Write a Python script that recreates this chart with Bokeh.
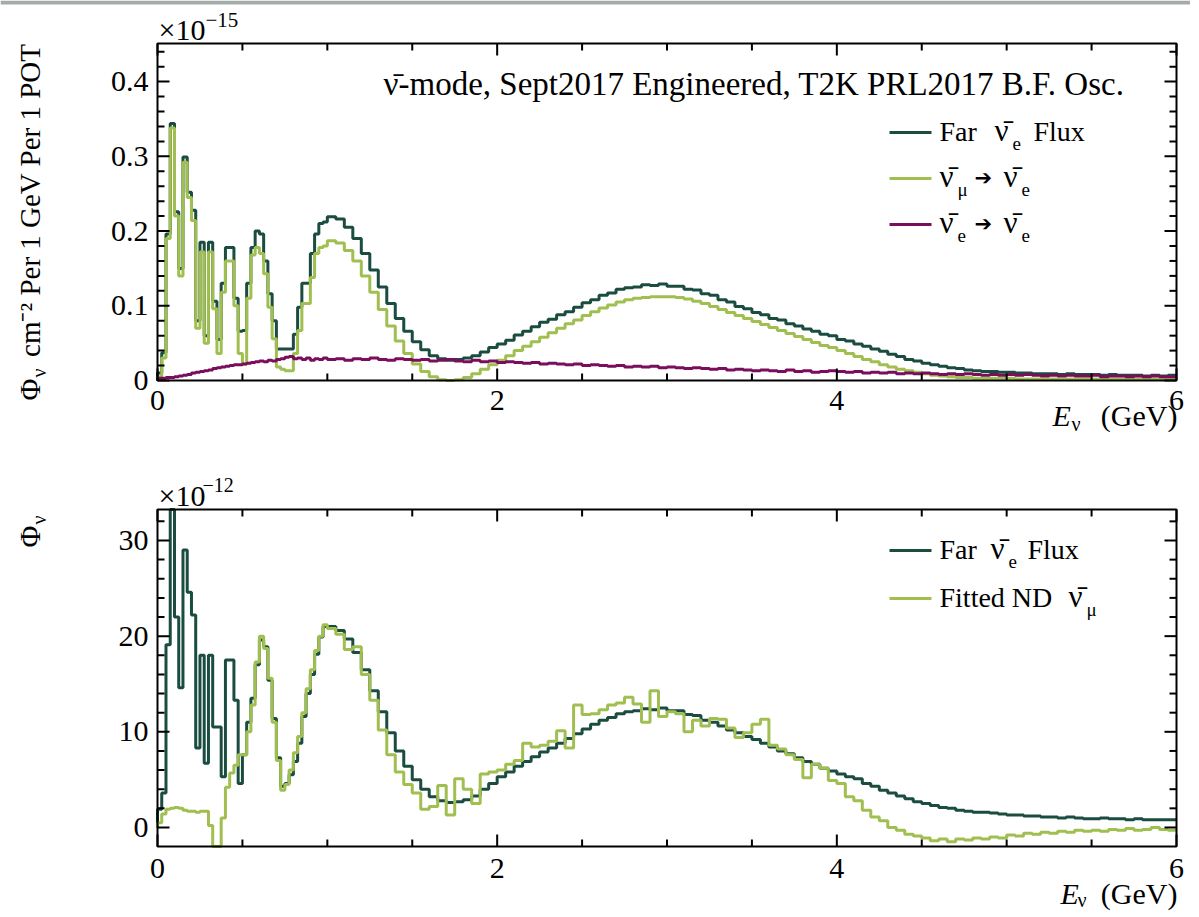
import math
import numpy as np
from bokeh.plotting import figure
from bokeh.models import Label, Range1d, BoxAnnotation
from bokeh.core.properties import value
from bokeh.embed import file_html
from bokeh.resources import INLINE

# ---------------- data ----------------
# bin edges: 0.025 GeV up to 1 GeV, 0.05 GeV from 1 to 6 GeV
edges = np.concatenate([np.linspace(0.0, 1.0, 41), np.linspace(1.05, 6.0, 100)])

# top panel, units of 1e-15
far_low = [.010, .037, .196, .344, .226, .150, .299, .252, .228, .080,
           .185, .060, .185, .106, .055, .130, .178, .178, .110, .066,
           .067, .130, .178, .200, .196, .160, .116, .080, .042, .042,
           .042, .042, .062, .098, .130, .130, .170, .196, .210, .212]
far_high = [.219, .216, .205, .190, .170, .148, .125, .103, .083, .066,
            .052, .041, .033, .029, .027, .028, .030, .033, .038, .044,
            .049, .054, .061, .066, .072, .078, .082, .088, .092, .098,
            .104, .108, .114, .117, .122, .124, .125, .128, .127, .129,
            .126, .126, .122, .121, .116, .114, .108, .105, .099, .096,
            .091, .088, .083, .081, .076, .073, .069, .066, .062, .060,
            .055, .053, .049, .046, .042, .039, .035, .032, .028, .026,
            .023, .021, .019, .017, .016, .014, .013, .012, .012, .011,
            .011, .010, .010, .009, .009, .009, .008, .009, .008, .008,
            .008, .007, .008, .007, .007, .007, .006, .007, .006, .007]

mue_low = [.005, .030, .190, .338, .220, .140, .292, .245, .214, .070,
           .172, .050, .172, .096, .036, .118, .160, .160, .100, .036,
           .022, .110, .168, .178, .170, .143, .098, .056, .018, .015,
           .013, .013, .036, .067, .103, .103, .138, .170, .178, .180]
mue_high = [.187, .184, .174, .160, .140, .118, .095, .073, .053, .036,
            .022, .012, .005, .001, .000, .001, .004, .009, .015, .021,
            .027, .033, .040, .046, .052, .058, .064, .070, .076, .081,
            .087, .092, .097, .101, .105, .108, .110, .111, .112, .112,
            .112, .111, .109, .106, .103, .099, .095, .091, .087, .083,
            .079, .075, .071, .067, .063, .059, .055, .051, .047, .044,
            .040, .036, .032, .028, .025, .021, .018, .015, .013, .011,
            .009, .007, .006, .005, .004, .004, .003, .003, .003, .003,
            .003, .002, .002, .002, .002, .002, .002, .002, .002, .002,
            .002, .002, .002, .002, .002, .002, .002, .002, .002, .002]

ee_low = [.003, .003, .004, .004, .005, .006, .007, .008, .010, .011,
          .012, .013, .014, .016, .017, .018, .019, .020, .021, .021,
          .022, .023, .024, .025, .026, .025, .027, .026, .028, .029,
          .031, .032, .029, .030, .028, .030, .027, .029, .028, .030]
ee_high = [.028, .029, .027, .029, .028, .030, .028, .027, .029, .028,
           .027, .028, .026, .027, .028, .026, .025, .027, .025, .026,
           .024, .025, .024, .023, .024, .022, .023, .022, .021, .022,
           .020, .021, .020, .019, .020, .018, .019, .018, .019, .017,
           .018, .017, .016, .017, .016, .015, .016, .014, .015, .014,
           .013, .014, .013, .012, .014, .012, .013, .011, .012, .013,
           .012, .011, .012, .010, .011, .010, .011, .009, .010, .009,
           .010, .009, .008, .009, .008, .009, .008, .007, .008, .007,
           .008, .007, .008, .007, .006, .007, .006, .007, .006, .006,
           .007, .005, .006, .006, .005, .006, .005, .006, .005, .005]

# bottom panel, units of 1e-12
farb_low = [1.9, 3.6, 19.1, 34.0, 22.0, 14.6, 29.0, 24.6, 22.2, 8.3,
            18.0, 6.7, 18.0, 10.5, 10.5, 5.3, 17.5, 17.5, 13.3, 4.6,
            7.6, 11.0, 13.5, 17.0, 19.6, 18.9, 15.4, 11.4, 7.3, 4.3,
            4.6, 5.5, 6.9, 8.8, 11.6, 14.0, 16.0, 18.1, 19.9, 21.0]
farb_high = [21.0, 20.6, 19.7, 18.3, 16.5, 14.3, 12.1, 9.9, 8.0, 6.4,
             5.0, 4.0, 3.2, 2.8, 2.6, 2.7, 2.9, 3.3, 4.0, 4.6,
             5.3, 5.8, 6.4, 6.9, 7.4, 7.9, 8.3, 8.8, 9.3, 9.8,
             10.3, 10.8, 11.2, 11.5, 11.9, 12.1, 12.2, 12.4, 12.3, 12.5,
             12.2, 12.2, 11.8, 11.7, 11.2, 11.0, 10.6, 10.2, 9.9, 9.5,
             9.2, 8.8, 8.4, 8.0, 7.7, 7.3, 6.9, 6.6, 6.2, 5.9,
             5.6, 5.3, 5.1, 4.6, 4.3, 3.9, 3.6, 3.3, 3.0, 2.7,
             2.5, 2.3, 2.1, 2.0, 1.8, 1.7, 1.6, 1.6, 1.5, 1.4,
             1.3, 1.3, 1.2, 1.2, 1.1, 1.1, 1.0, 1.1, 1.0, 0.9,
             0.9, 1.0, 0.9, 0.9, 0.8, 0.9, 0.8, 0.8, 0.8, 0.8]

nd_low = [0.5, 1.4, 1.9, 2.0, 2.1, 2.0, 1.8, 1.7, 1.7, 1.6,
          1.7, 1.7, 0.2, -2.5, -2.5, 1.0, 4.2, 5.7, 6.5, 7.6,
          7.6, 10.0, 12.8, 17.3, 20.0, 18.7, 15.6, 11.0, 7.0, 3.9,
          4.5, 6.0, 7.8, 9.5, 12.0, 14.5, 16.5, 18.5, 20.0, 21.2]
nd_high = [20.8, 20.2, 18.6, 18.9, 16.0, 13.3, 10.2, 7.6, 5.8, 4.5,
           3.6, 1.9, 2.2, 4.4, 1.3, 5.1, 4.0, 2.5, 5.6, 5.8,
           6.0, 6.6, 7.0, 8.8, 8.4, 8.6, 9.0, 10.1, 8.3, 12.8,
           11.8, 11.9, 12.3, 12.8, 13.0, 13.6, 12.9, 11.0, 14.3, 11.6,
           12.1, 11.9, 10.0, 11.2, 10.6, 11.4, 11.3, 10.4, 9.4, 9.9,
           10.8, 11.3, 8.6, 8.2, 7.6, 7.1, 5.2, 6.6, 6.2, 4.9,
           4.6, 3.2, 2.8, 1.8, 1.1, 0.7, 0.0, -0.3, -0.7, -0.9,
           -1.1, -1.4, -1.2, -1.5, -1.2, -1.3, -1.1, -1.2, -1.0, -1.1,
           -0.8, -0.9, -0.6, -0.7, -0.5, -0.6, -0.4, -0.5, -0.3, -0.4,
           -0.3, -0.4, -0.2, -0.3, -0.1, -0.3, -0.2, 0.0, -0.2, -0.3]

x_major = [0, 2, 4, 6]
x_labels = ["0", "2", "4", "6"]
x_minor = [0.5, 1.0, 1.5, 2.5, 3.0, 3.5, 4.5, 5.0, 5.5]
ytop_range = (0.0, 0.451)
ytop_major = [0.0, 0.1, 0.2, 0.3, 0.4]
ytop_labels = ["0", "0.1", "0.2", "0.3", "0.4"]
ytop_minor = [0.02, 0.04, 0.06, 0.08, 0.12, 0.14, 0.16, 0.18, 0.22, 0.24, 0.26, 0.28,
              0.32, 0.34, 0.36, 0.38, 0.42, 0.44]
ybot_range = (-1.99, 33.24)
ybot_major = [0, 10, 20, 30]
ybot_labels = ["0", "10", "20", "30"]
ybot_minor = [2, 4, 6, 8, 12, 14, 16, 18, 22, 24, 26, 28, 32]

# ---------------- layout / style ----------------
FONT = "Liberation Serif"
DARK = "#1a4c40"
LIGHT = "#a0bf50"
PURPLE = "#7a0e5c"
NUBAR = "\u03bd\u0304"
ARROW = "\u2794"
W, H = 1190, 912
FL, FR = 157, 1176            # frame left / right (px)
T_TOP, T_BOT = 43, 380        # top panel frame
B_TOP, B_BOT = 509, 846       # bottom panel frame

sx = (FR - FL) / 6.0
syt = (T_BOT - T_TOP) / (ytop_range[1] - ytop_range[0])
syb = (B_BOT - B_TOP) / (ybot_range[1] - ybot_range[0])

p = figure(width=W, height=H,
           x_range=Range1d(-FL / sx, 6.0 + (W - FR) / sx),
           y_range=Range1d(ytop_range[0] - (H - T_BOT) / syt, ytop_range[1] + T_TOP / syt),
           x_axis_type=None, y_axis_type=None, min_border=0,
           output_backend="svg", toolbar_location=None)
p.extra_y_ranges = {"bot": Range1d(ybot_range[0] - (H - B_BOT) / syb, ybot_range[1] + B_TOP / syb)}
p.outline_line_color = None
p.background_fill_color = "white"
p.border_fill_color = "white"


def step_xy(vals, lo, hi):
    v = np.clip(np.asarray(vals, dtype=float), lo, hi)
    xs = np.concatenate([[edges[0]], edges])
    ys = np.concatenate([[max(0.0, lo)], v, [v[-1]]])
    return xs, ys


def draw_axes(ylo, yhi, ymaj, ymin, ylabels, sy, rn, label_drop):
    kw = dict(line_color="black", line_width=2, line_cap="butt")
    if rn:
        kw["y_range_name"] = rn
    for vals, L in ((x_major, 12), (x_minor, 7)):
        v = np.asarray(vals, dtype=float)
        n = len(v)
        p.segment(x0=v, y0=np.full(n, ylo), x1=v, y1=np.full(n, ylo + L / sy), **kw)
        p.segment(x0=v, y0=np.full(n, yhi), x1=v, y1=np.full(n, yhi - L / sy), **kw)
    for vals, L in ((ymaj, 12), (ymin, 7)):
        v = np.asarray(vals, dtype=float)
        n = len(v)
        p.segment(x0=np.zeros(n), y0=v, x1=np.full(n, L / sx), y1=v, **kw)
        p.segment(x0=np.full(n, 6.0), y0=v, x1=np.full(n, 6.0 - L / sx), y1=v, **kw)
    p.quad(left=[0], right=[6], bottom=[ylo], top=[yhi], fill_color=None,
           line_color="black", line_width=2, **({"y_range_name": rn} if rn else {}))
    tkw = dict(text_font=value(FONT), text_font_size=value("30px"), text_color="black")
    if rn:
        tkw["y_range_name"] = rn
    p.text(x=x_major, y=[ylo - label_drop / sy] * len(x_major), text=x_labels,
           text_align="center", text_baseline="middle", **tkw)
    p.text(x=[-9.0 / sx] * len(ymaj), y=ymaj, text=ylabels,
           text_align="right", text_baseline="middle", **tkw)


def txt(px, py, s, size, align="left", style="normal", rot=False, font=FONT):
    """(px, py) = left/right end of the text on its baseline, in page pixels."""
    if rot:
        x, y, ang = px - 0.34 * size, H - py, math.pi / 2
    else:
        x, y, ang = px, H - (py - 0.34 * size), 0.0
    p.add_layout(Label(x=x, y=y, x_units="screen", y_units="screen", text=s,
                       text_font=font, text_font_size=f"{size}px", text_align=align,
                       text_baseline="middle", text_font_style=style, angle=ang,
                       text_color="black"))


def legline(y, color):
    p.add_layout(BoxAnnotation(left=889, right=931, bottom=H - y - 1.5, top=H - y + 1.5,
                               left_units="screen", right_units="screen",
                               top_units="screen", bottom_units="screen",
                               fill_color=color, fill_alpha=1.0, line_alpha=0.0))


# thin grey strip at the very top of the reference picture
p.add_layout(BoxAnnotation(left=0, right=W, bottom=H - 4, top=H,
                           left_units="screen", right_units="screen",
                           top_units="screen", bottom_units="screen",
                           fill_color="#a3acaa", fill_alpha=1.0, line_alpha=0.0))

# ---------------- top panel ----------------
for vals, col in ((far_low + far_high, DARK), (mue_low + mue_high, LIGHT), (ee_low + ee_high, PURPLE)):
    xs, ys = step_xy(vals, *ytop_range)
    p.step(xs, ys, mode="after", line_color=col, line_width=3)
draw_axes(ytop_range[0], ytop_range[1], ytop_major, ytop_minor, ytop_labels, syt, None, 20)

txt(158, 39, "\u00d710", 30)
txt(205, 27, "\u221215", 21)
txt(1124, 95, NUBAR + "-mode, Sept2017 Engineered, T2K PRL2017 B.F. Osc.", 33, align="right")
legline(132, DARK)
legline(178, LIGHT)
legline(224, PURPLE)
txt(939, 141, "Far", 28)
txt(994, 141, NUBAR, 31)
txt(1012, 149, "e", 19)
txt(1033, 141, "Flux", 28)
txt(939, 187, NUBAR, 31)
txt(957, 195, "\u03bc", 19)
txt(974, 185, ARROW, 21, font="DejaVu Sans")
txt(1003, 187, NUBAR, 31)
txt(1021, 195, "e", 19)
txt(939, 233, NUBAR, 31)
txt(957, 241, "e", 19)
txt(974, 231, ARROW, 21, font="DejaVu Sans")
txt(1003, 233, NUBAR, 31)
txt(1021, 241, "e", 19)
txt(1052, 425, "E", 30, style="italic")
txt(1071, 430, "\u03bd", 20)
txt(1177, 425, "(GeV)", 30, align="right")
txt(39, 400, "\u03a6", 30, rot=True)
txt(45, 377, "\u03bd", 20, rot=True)
txt(39, 43, "cm\u207b\u00b2 Per 1 GeV Per 1 POT", 29, align="right", rot=True)

# ---------------- bottom panel ----------------
for vals, col in ((farb_low + farb_high, DARK), (nd_low + nd_high, LIGHT)):
    xs, ys = step_xy(vals, *ybot_range)
    p.step(xs, ys, mode="after", line_color=col, line_width=3, y_range_name="bot")
draw_axes(ybot_range[0], ybot_range[1], ybot_major, ybot_minor, ybot_labels, syb, "bot", 22)

txt(158, 505, "\u00d710", 30)
txt(202, 491, "\u221212", 20)
legline(550, DARK)
legline(598, LIGHT)
txt(939, 559, "Far", 28)
txt(990, 559, NUBAR, 31)
txt(1008, 567, "e", 19)
txt(1027, 559, "Flux", 28)
txt(939, 607, "Fitted ND", 28)
txt(1068, 607, NUBAR, 31)
txt(1086, 615, "\u03bc", 19)
txt(1060, 903, "E", 30, style="italic")
txt(1077, 906, "\u03bd", 20)
txt(1177, 903, "(GeV)", 30, align="right")
txt(39, 547, "\u03a6", 30, rot=True)
txt(45, 524, "\u03bd", 20, rot=True)

open("out.html", "w").write(file_html(p, INLINE))
